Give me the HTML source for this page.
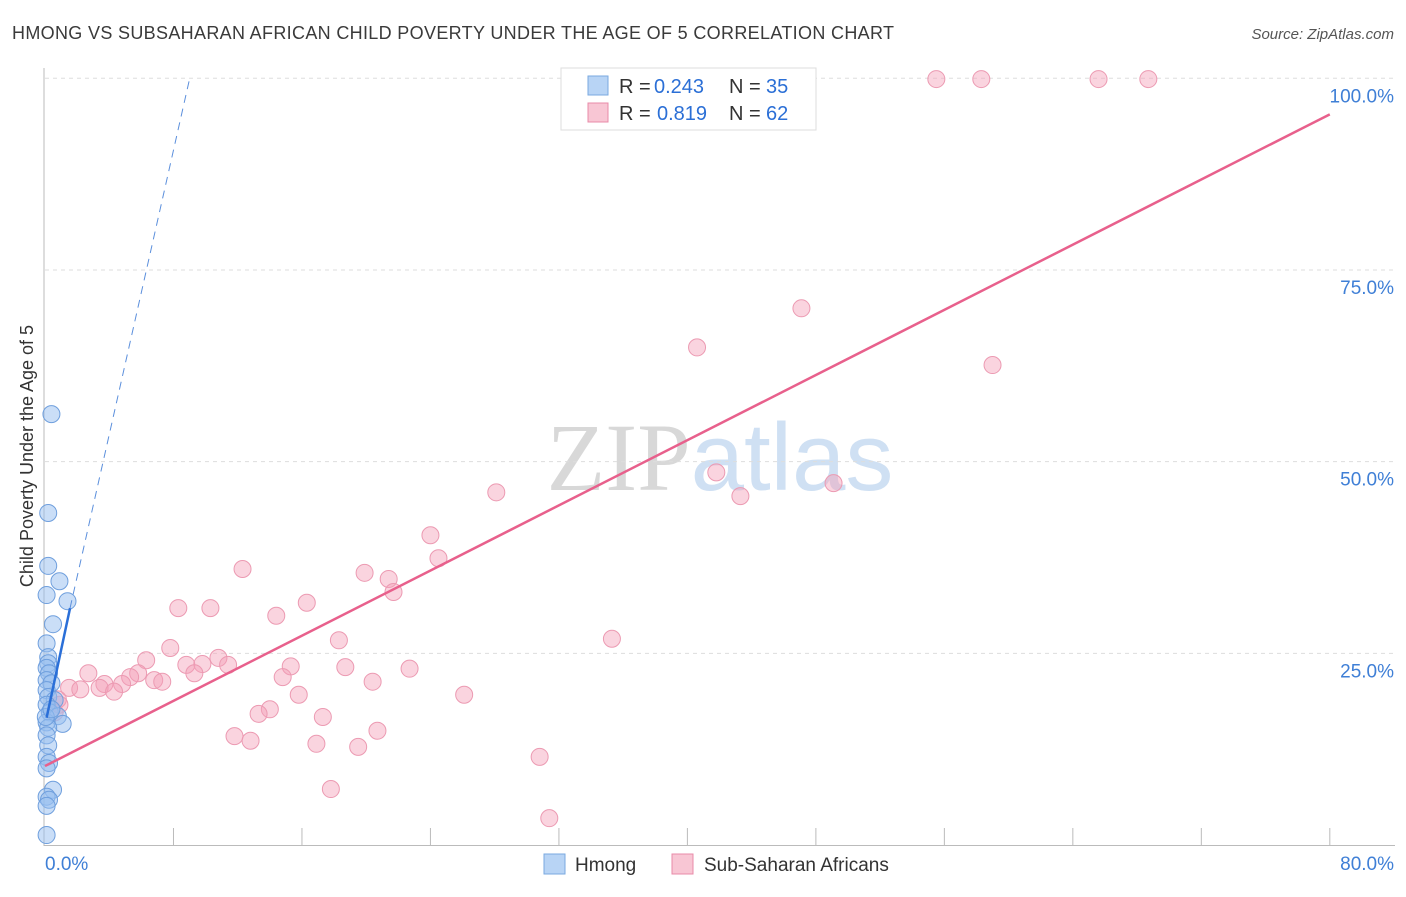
<!DOCTYPE html>
<html><head><meta charset="utf-8">
<style>
body{margin:0;background:#fff;font-family:"Liberation Sans",sans-serif;}
svg text{font-family:"Liberation Sans",sans-serif;}
</style></head>
<body>
<svg id="chart" width="1406" height="892" xmlns="http://www.w3.org/2000/svg">
<text x="12" y="39" font-size="18" fill="#3a3a3a" textLength="882">HMONG VS SUBSAHARAN AFRICAN CHILD POVERTY UNDER THE AGE OF 5 CORRELATION CHART</text>
<text x="1394" y="39" font-size="15" fill="#555" text-anchor="end" font-style="italic">Source: ZipAtlas.com</text>
<text x="720" y="490" font-size="96" text-anchor="middle"><tspan fill="#d8d8d8" font-family="Liberation Serif">ZIP</tspan><tspan fill="#cfe0f3">atlas</tspan></text>
<text transform="translate(33,456) rotate(-90)" font-size="18" fill="#333" text-anchor="middle">Child Poverty Under the Age of 5</text>
<g id="grid"></g><g id="axes"></g><g id="pts"></g><g id="lines"></g>
<g>
<rect x="561" y="68" width="255" height="62" fill="#fff" stroke="#ddd"/>
<rect x="588" y="76" width="20" height="19" fill="#b8d4f5" stroke="#7aa9e0"/>
<text x="619" y="93" font-size="20" fill="#333">R =</text>
<text x="654" y="93" font-size="20" fill="#2b6fd6">0.243</text>
<text x="729" y="93" font-size="20" fill="#333">N =</text>
<text x="766" y="93" font-size="20" fill="#2b6fd6">35</text>
<rect x="588" y="103" width="20" height="19" fill="#f8c6d4" stroke="#e88ba8"/>
<text x="619" y="120" font-size="20" fill="#333">R =</text>
<text x="657" y="120" font-size="20" fill="#2b6fd6">0.819</text>
<text x="729" y="120" font-size="20" fill="#333">N =</text>
<text x="766" y="120" font-size="20" fill="#2b6fd6">62</text>
</g>
<g>
<rect x="544" y="854" width="21" height="20" fill="#b8d4f5" stroke="#7aa9e0"/>
<text x="575" y="871" font-size="19" fill="#333">Hmong</text>
<rect x="672" y="854" width="21" height="20" fill="#f8c6d4" stroke="#e88ba8"/>
<text x="704" y="871" font-size="19" fill="#333">Sub-Saharan Africans</text>
</g>
</svg>
<script>
const blueX=[0.4,0.2,0.2,0.9,0.1,1.4,0.5,0.1,0.2,0.2,0.1,0.25,0.1,0.4,0.1,0.2,0.6,0.1,0.3,0.8,1.1,0.1,0.2,0.1,0.2,0.1,0.25,0.1,0.5,0.1,0.25,0.1,0.1,0.05,0.4];
const blueY=[56.2,43.3,36.4,34.4,32.6,31.8,28.8,26.3,24.5,23.7,23.1,22.4,21.5,21.1,20.2,19.3,18.9,18.3,17.3,16.8,15.8,16.0,15.3,14.3,13.0,11.5,10.7,10.0,7.2,6.3,5.9,5.1,1.3,16.7,17.7];
const pinkX=[55.5,58.3,65.6,68.7,47.1,40.6,59.0,41.8,43.3,49.1,28.1,24.0,24.5,19.9,21.4,21.7,12.3,8.3,10.3,16.3,14.4,35.3,18.3,7.8,6.3,10.8,8.8,9.8,11.4,15.3,18.7,22.7,5.8,5.3,6.8,7.3,9.3,2.7,3.7,4.8,3.4,4.3,1.5,2.2,14.8,20.4,15.8,26.1,14.0,13.3,17.3,11.8,12.8,20.7,16.9,19.5,30.8,17.8,31.4,0.8,0.9,0.6];
const pinkY=[99.9,99.9,99.9,99.9,70.0,64.9,62.6,48.6,45.5,47.2,46.0,40.4,37.4,35.5,34.7,33.0,36.0,30.9,30.9,31.6,29.9,26.9,26.7,25.7,24.1,24.4,23.5,23.6,23.5,23.3,23.2,23.0,22.4,21.9,21.5,21.3,22.4,22.4,21.0,21.0,20.5,20.0,20.5,20.3,21.9,21.3,19.6,19.6,17.7,17.1,16.7,14.2,13.6,14.9,13.2,12.8,11.5,7.3,3.5,19.0,18.3,17.3];
const yTicks=[25,50,75,100];
const yTickLabels=["25.0%","50.0%","75.0%","100.0%"];
const xTicks=[0,8,16,24,32,40,48,56,64,72,80];
const pinkFit=[10.3,95.3];
const blueFit=[0.1,16.6,1.56,30.9,9.0,99.9];
const sx=v=>45+v*16.06, sy=v=>845-v*7.667;
const NS="http://www.w3.org/2000/svg";
function mk(tag,attrs,parent){const e=document.createElementNS(NS,tag);for(const k in attrs)e.setAttribute(k,attrs[k]);document.getElementById(parent).appendChild(e);return e;}
yTicks.forEach((t,i)=>{
 const g=mk('line',{x1:45,x2:1395,y1:sy(t),y2:sy(t),stroke:'#ddd','stroke-dasharray':'4,4'},'grid');
 
 
 const l=mk('text',{x:1394,y:sy(t)+24,'font-size':19,fill:'#3f7fd6','text-anchor':'end'},'grid');
 l.textContent=yTickLabels[i];
 
 
});
mk('line',{x1:44,x2:44,y1:68,y2:846,stroke:'#bbb'},'axes');
mk('line',{x1:44,x2:1395,y1:845.5,y2:845.5,stroke:'#bbb'},'axes');
xTicks.forEach(t=>{if(t>0){const e=mk('line',{x1:sx(t),x2:sx(t),y1:828,y2:845,stroke:'#bbb'},'axes');
 
 }});
const x0=mk('text',{x:45,y:870,'font-size':19,fill:'#3f7fd6'},'axes');x0.textContent='0.0%';


const x1=mk('text',{x:1394,y:870,'font-size':19,fill:'#3f7fd6','text-anchor':'end'},'axes');x1.textContent='80.0%';


pinkX.forEach((v,i)=>{const c=mk('circle',{cx:sx(v),cy:sy(pinkY[i]),r:8.5,fill:'rgba(244,160,185,0.45)',stroke:'#ec9ab2','stroke-width':1},'pts');
 
 });
blueX.forEach((v,i)=>{const c=mk('circle',{cx:sx(v),cy:sy(blueY[i]),r:8.5,fill:'rgba(150,190,240,0.5)',stroke:'#6f9fdd','stroke-width':1},'pts');
 
 });
const pl=mk('line',{x1:sx(0),y1:sy(pinkFit[0]),x2:sx(80),y2:sy(pinkFit[1]),stroke:'#e8608c','stroke-width':2.5},'lines');


const bl=mk('line',{x1:sx(blueFit[0]),y1:sy(blueFit[1]),x2:sx(blueFit[2]),y2:sy(blueFit[3]),stroke:'#2a6fd8','stroke-width':2.5},'lines');


const bd=mk('line',{x1:sx(blueFit[2]),y1:sy(blueFit[3]),x2:sx(blueFit[4]),y2:sy(blueFit[5]),stroke:'#5b8fdc','stroke-width':1,'stroke-dasharray':'8,6'},'lines');


</script>
</body></html>
